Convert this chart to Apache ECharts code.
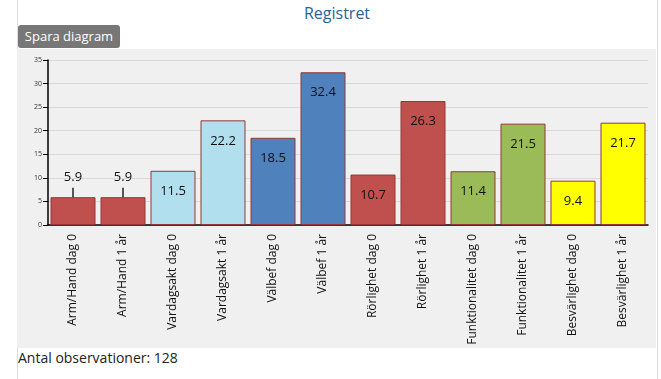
<!DOCTYPE html>
<html><head><meta charset="utf-8">
<script src="https://cdn.jsdelivr.net/npm/echarts@6/dist/echarts.min.js"></script>
<style>
html,body{margin:0;padding:0;background:#fff;width:661px;height:379px;overflow:hidden;font-family:"Open Sans",sans-serif;}
#frame{position:absolute;left:17px;top:0;width:639px;height:379px;border-left:1px solid #ddd;border-right:1px solid #ddd;}
#title{position:absolute;left:17px;top:2px;width:640px;text-align:center;color:#2a6496;font-size:16px;}
#btn{position:absolute;left:18px;top:25px;width:102px;height:23px;background:#777;color:#fff;border-radius:3px;font-size:13px;line-height:23px;text-align:center;box-sizing:border-box;}
#chart{position:absolute;left:17px;top:49px;width:639px;height:299px;background:#f0f0f0;}
#foot{position:absolute;left:18px;top:348px;font-size:14px;color:#222;}
</style></head>
<body>
<div id="frame"></div>
<div id="title">Registret</div>
<div id="btn">Spara diagram</div>
<div id="chart"></div>
<div id="foot">Antal observationer: 128</div>
<script>
const categories = ["Arm/Hand dag 0","Arm/Hand 1 år","Vardagsakt dag 0","Vardagsakt 1 år","Välbef dag 0","Välbef 1 år","Rörlighet dag 0","Rörlighet 1 år","Funktionalitet dag 0","Funktionalitet 1 år","Besvärlighet dag 0","Besvärlighet 1 år"];
const values = [5.9,5.9,11.5,22.2,18.5,32.4,10.7,26.3,11.4,21.5,9.4,21.7];
const errors = [2,2,0,0,0,0,0,0,0,0,0,0];
const colors = ["#c0504d","#c0504d","#b2dfee","#b2dfee","#4f81bd","#4f81bd","#c0504d","#c0504d","#9bbb59","#9bbb59","#ffff00","#ffff00"];
const yTicks = [0,5,10,15,20,25,30,35];

const chart = echarts.init(document.getElementById('chart'));
const barData = values.map((v,i)=>{
  const d = {value:v, itemStyle:{color:colors[i]}};
  if (errors[i] > 0) d.label = {position:'top', distance:13};
  return d;
});
const errData = values.map((v,i)=>[i, v - errors[i], v + errors[i]]).filter((d,i)=>errors[i]>0);
chart.setOption({
  animation:false,
  textStyle:{fontFamily:'"Open Sans", sans-serif'},
  grid:{left:31,right:8,top:11,bottom:123},
  xAxis:{type:'category',data:categories,
    axisLine:{lineStyle:{color:'#000',width:1.5}},
    axisTick:{alignWithLabel:true,length:5,lineStyle:{color:'#000'}},
    axisLabel:{rotate:90,fontSize:12,color:'#111',margin:9,interval:0}},
  yAxis:{type:'value',min:yTicks[0],max:yTicks[yTicks.length-1],interval:5,
    axisLine:{show:true,lineStyle:{color:'#000',width:1.5}},
    axisTick:{show:true,length:5,lineStyle:{color:'#000'}},
    axisLabel:{fontSize:7,color:'#333',margin:6},
    splitLine:{lineStyle:{color:'#d9d9d9'}}},
  series:[
    {type:'custom',z:1,data:errData,
      renderItem:function(params,api){
        const x = api.coord([api.value(0),0])[0];
        const y1 = api.coord([0,api.value(1)])[1];
        const y2 = api.coord([0,api.value(2)])[1];
        return {type:'line',shape:{x1:x,y1:y1,x2:x,y2:y2},style:{stroke:'#222',lineWidth:1.5}};
      }},
    {type:'bar',z:2,data:barData,barCategoryGap:'10%',
      itemStyle:{borderColor:'#953735',borderWidth:1},
      label:{show:true,position:'insideTop',distance:14,fontSize:13,color:'#111'}}
  ]
});
</script>
</body></html>
